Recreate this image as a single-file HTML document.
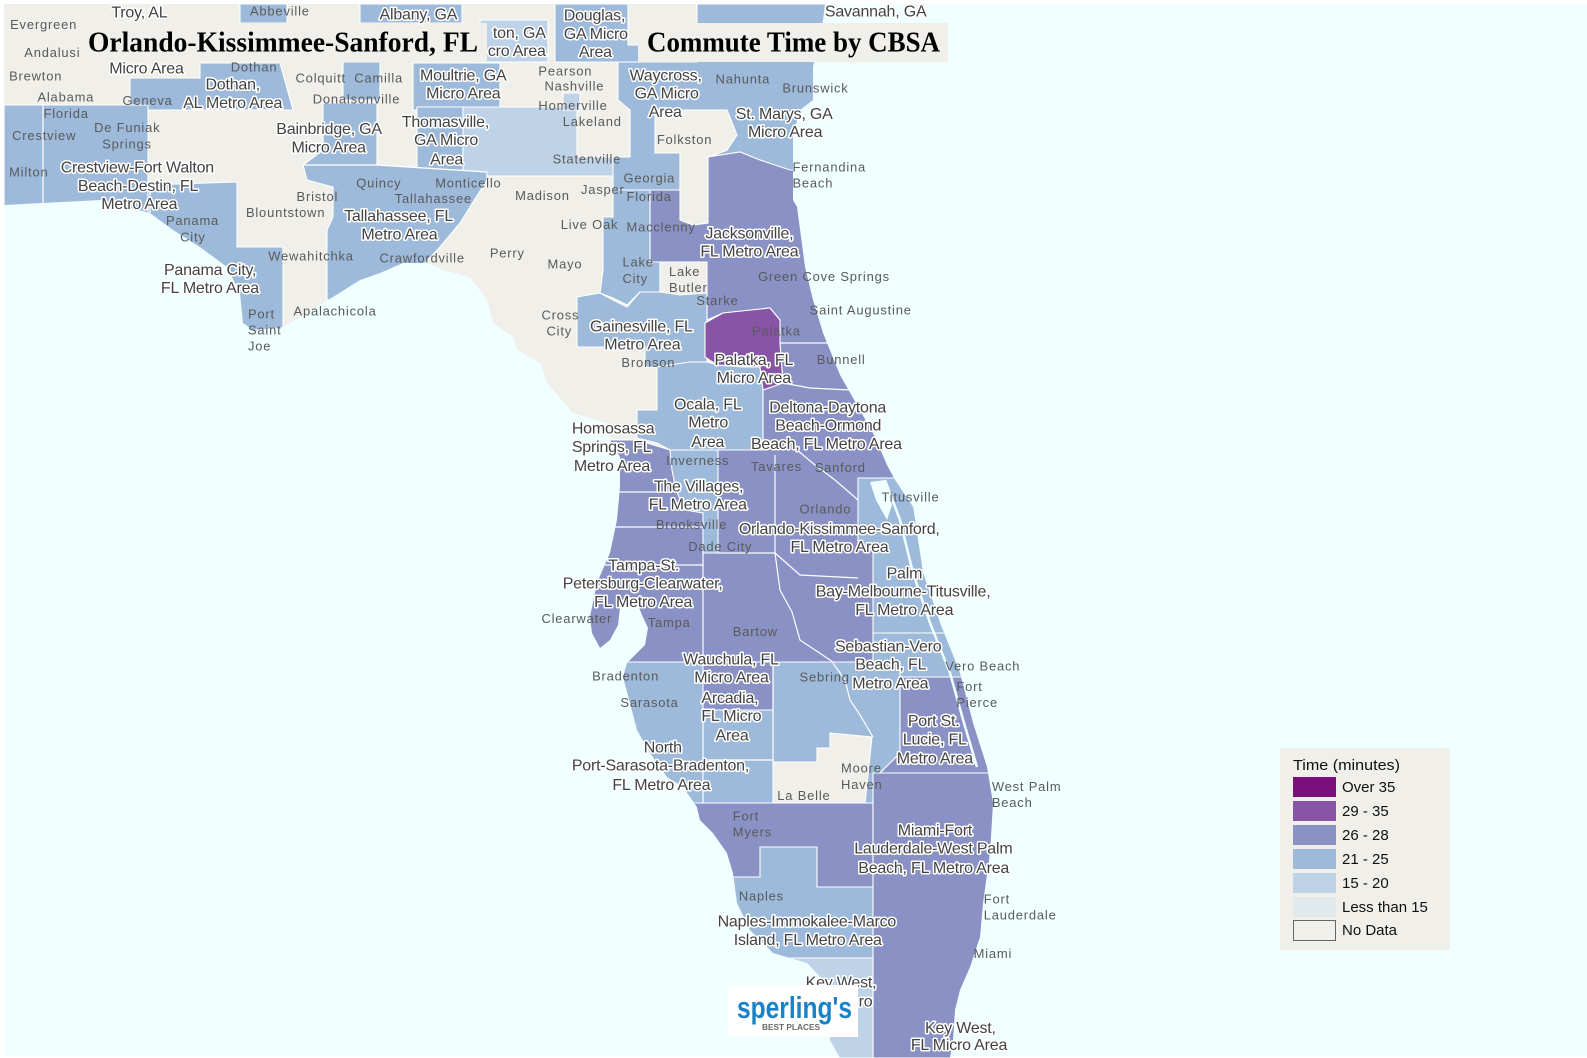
<!DOCTYPE html>
<html>
<head>
<meta charset="utf-8">
<style>
html,body{margin:0;padding:0;background:#fff;}
svg{display:block;}
.L{font-family:"Liberation Sans",Arial,sans-serif;font-size:15.8px;fill:#434343;stroke:#fff;stroke-width:3px;paint-order:stroke;stroke-linejoin:round;letter-spacing:-0.2px;}
.S{font-family:"Liberation Sans",Arial,sans-serif;font-size:12.8px;fill:#5a5a5a;letter-spacing:0.8px;}
.lg{font-family:"Liberation Sans",Arial,sans-serif;font-size:15px;fill:#111;}
</style>
</head>
<body>
<svg width="1587" height="1058" viewBox="0 0 1587 1058" xmlns="http://www.w3.org/2000/svg">
<defs>
<clipPath id="land">
<path d="M4,4 L825,4 L823,20 L813,67 L813,100 L800,110 L793,135 L793,200 L797,207 L805,267 L813,300 L823,333 L840,375 L857,405 L873,433 L887,465 L895,480 L913,507 L923,573 L940,623 L960,673 L973,723 L987,767 L993,803 L990,853 L983,903 L980,937 L970,967 L960,990 L955,1010 L953,1040 L950,1058 L840,1058 L830,1040 L830,987 L807,963 L773,953 L750,930 L737,903 L733,873 L727,853 L713,833 L700,820 L697,807 L683,787 L667,777 L650,753 L637,730 L630,703 L623,677 L627,663 L635,655 L645,645 L648,628 L642,615 L636,600 L625,595 L620,607 L618,625 L610,640 L600,648 L592,633 L590,617 L597,583 L610,553 L617,520 L620,487 L620,457 L610,440 L607,423 L573,413 L547,383 L540,363 L517,350 L513,337 L493,323 L487,300 L470,277 L443,270 L427,263 L403,263 L380,273 L360,280 L333,297 L300,317 L283,327 L253,330 L243,323 L240,293 L227,267 L200,247 L173,230 L150,213 L100,200 L4,205 Z"/>
</clipPath>
</defs>

<rect x="0" y="0" width="1587" height="1058" fill="#ffffff"/>
<rect x="4" y="4" width="1583" height="1052" fill="#f0ffff"/>

<g clip-path="url(#land)">
<rect x="0" y="0" width="1587" height="1058" fill="#f0efe9"/>
<g stroke="#ffffff" stroke-width="1.1">
<polygon fill="#9dbada" points="240,4 287,4 287,23 240,23"/>
<polygon fill="#9dbada" points="360,4 462,4 462,23 360,23"/>
<polygon fill="#bed3e8" points="480,20 548,20 548,62 480,62"/>
<polygon fill="#9dbada" points="555,4 628,4 628,45 640,45 640,62 555,62"/>
<polygon fill="#9dbada" points="413,63 500,63 500,110 413,110"/>
<polygon fill="#9dbada" points="343,62 380,62 380,100 343,100"/>
<polygon fill="#9dbada" points="130,78 200,78 200,63 280,63 293,110 130,110"/>
<polygon fill="#9dbada" points="417,107 463,107 463,172 417,172"/>
<polygon fill="#bed3e8" points="463,107 577,107 577,157 653,157 653,176 463,176"/>
<polygon fill="#bed3e8" points="563,93 580,93 580,110 563,110"/>
<polygon fill="#9dbada" points="697,4 830,4 830,172 790,172 760,160 740,152 710,157 680,150 680,190 613,190 613,157 630,157 630,110 618,100 618,62 697,62"/>
<polygon fill="#f0efe9" points="655,110 727,110 737,135 727,150 710,157 708,223 693,225 680,220 680,153 655,153"/>
<polygon fill="#8991c5" points="708,157 740,152 760,160 790,170 840,170 840,343 780,343 780,320 770,308 723,313 707,320 707,262 650,262 650,190 680,190 680,220 693,225 708,223"/>
<polygon fill="#9dbada" points="613,190 650,190 650,262 660,262 660,292 640,292 627,305 613,298 600,293 603,270 603,217 613,217"/>
<polygon fill="#9dbada" points="577,297 600,293 613,300 627,307 640,292 660,292 680,295 707,293 707,362 690,362 657,367 645,367 645,347 577,347"/>
<polygon fill="#9dbada" points="4,105 148,105 148,225 4,225"/>
<polygon fill="#9dbada" points="148,185 237,182 237,247 283,247 283,340 148,340"/>
<polygon fill="#9dbada" points="323,103 377,103 377,165 487,172 487,180 470,207 460,223 440,247 425,263 400,290 327,300 327,230 333,217 333,187 307,180 303,165 323,150"/>
<polygon fill="#8991c5" points="580,440 637,440 670,450 763,450 763,390 783,383 780,343 1000,343 1000,662 580,662"/>
<polygon fill="#9dbada" points="657,367 690,362 707,362 717,365 743,367 760,367 763,390 763,450 670,450 657,443 637,438 637,410 657,410"/>
<polygon fill="#8854a5" points="705,323 723,313 770,308 780,320 780,343 783,383 763,390 760,367 717,365 705,357"/>
<polygon fill="#9dbada" points="670,450 718,450 718,553 703,553 703,513 685,510 676,490 672,470"/>
<polygon fill="#9dbada" points="858,478 1000,478 1000,633 873,633 873,550 858,550"/>
<polygon fill="#9dbada" points="873,633 1000,633 1000,677 873,677"/>
<polygon fill="#9dbada" points="580,662 900,662 900,960 580,960"/>
<polygon fill="#8991c5" points="703,662 773,662 773,710 703,710"/>
<polygon fill="#f0efe9" points="830,733 872,737 865,803 773,803 773,762 817,762 817,748 830,748"/>
<polygon fill="#8991c5" points="600,803 873,803 873,887 817,887 817,847 760,847 760,877 600,877"/>
<polygon fill="#8991c5" points="900,677 1000,677 1000,773 880,773 900,753"/>
<polygon fill="#8991c5" points="873,773 1000,773 1000,1058 873,1058"/>
<polygon fill="#bed3e8" points="760,958 873,958 873,1058 760,1058"/>
</g>
<g stroke="#ffffff" stroke-width="1.2" fill="none">
<polyline points="43,105 43,205"/>
<polyline points="150,185 150,225"/>
<polyline points="303,165 377,165 487,172"/>
<polyline points="600,492 670,492"/>
<polyline points="605,527 703,527"/>
<polyline points="600,565 703,565"/>
<polyline points="703,553 703,662"/>
<polyline points="718,553 775,553"/>
<polyline points="775,455 775,553"/>
<polyline points="797,450 815,465 835,480 858,500"/>
<polyline points="775,553 800,575 858,578"/>
<polyline points="775,553 780,590 792,612 800,640 833,662"/>
<polyline points="780,343 835,343 850,337"/>
<polyline points="783,383 810,388 850,390"/>
<polyline points="833,663 845,680 850,700 860,715 873,737"/>
<polyline points="703,710 703,803"/>
<polyline points="703,760 773,760"/>
<polyline points="773,662 773,762"/>
<polyline points="625,598 625,640"/>
</g>
</g>

<!-- lagoons -->
<polyline points="885,480 900,520 913,573 930,623 950,673 964,723 977,767" fill="none" stroke="#f0ffff" stroke-width="2.5"/>
<polygon points="870,482 885,480 892,505 887,520 876,500" fill="#f0ffff"/>

<!-- titles -->
<rect x="82" y="23" width="405" height="39" fill="#f0efe9"/>
<text x="88" y="51.5" font-family="'Liberation Serif',serif" font-weight="bold" font-size="28" textLength="390" lengthAdjust="spacingAndGlyphs" fill="#000">Orlando-Kissimmee-Sanford, FL</text>
<rect x="638" y="23" width="310" height="39" fill="#f0efe9"/>
<text x="647" y="51.5" font-family="'Liberation Serif',serif" font-weight="bold" font-size="28" textLength="293" lengthAdjust="spacingAndGlyphs" fill="#000">Commute Time by CBSA</text>

<g transform="scale(1.0121)">
<g class="S">
<text x="10" y="28.5">Evergreen</text>
<text x="247" y="15.5">Abbeville</text>
<text x="24" y="56.5">Andalusi</text>
<text x="228" y="70.5">Dothan</text>
<text x="292" y="81.5">Colquitt</text>
<text x="350" y="81.5">Camilla</text>
<text x="532" y="74.5">Pearson</text>
<text x="538" y="89.5">Nashville</text>
<text x="707" y="82.5">Nahunta</text>
<text x="773" y="91.5">Brunswick</text>
<text x="9" y="79.5">Brewton</text>
<text x="37" y="100.5">Alabama</text>
<text x="121" y="103.5">Geneva</text>
<text x="309" y="102.5">Donalsonville</text>
<text x="532" y="108.5">Homerville</text>
<text x="556" y="124.5">Lakeland</text>
<text x="43" y="116.5">Florida</text>
<text x="93" y="130.5">De Funiak</text>
<text x="101" y="146.5">Springs</text>
<text x="649" y="142.5">Folkston</text>
<text x="12" y="138.5">Crestview</text>
<text x="546" y="161.5">Statenville</text>
<text x="783" y="169.5">Fernandina</text>
<text x="783" y="185.5">Beach</text>
<text x="9" y="174.5">Milton</text>
<text x="352" y="185.5">Quincy</text>
<text x="430" y="185.5">Monticello</text>
<text x="616" y="180.5">Georgia</text>
<text x="619" y="198.5">Florida</text>
<text x="574" y="191.5">Jasper</text>
<text x="509" y="197.5">Madison</text>
<text x="293" y="198.5">Bristol</text>
<text x="390" y="200.5">Tallahassee</text>
<text x="243" y="214.5">Blountstown</text>
<text x="164" y="222.5">Panama</text>
<text x="178" y="238.5">City</text>
<text x="554" y="226.5">Live Oak</text>
<text x="619" y="228.5">Macclenny</text>
<text x="265" y="257.5">Wewahitchka</text>
<text x="375" y="259.5">Crawfordville</text>
<text x="484" y="254.5">Perry</text>
<text x="541" y="265.5">Mayo</text>
<text x="615" y="263.5">Lake</text>
<text x="615" y="279.5">City</text>
<text x="661" y="272.5">Lake</text>
<text x="661" y="288.5">Butler</text>
<text x="749" y="277.5">Green Cove Springs</text>
<text x="688" y="301.5">Starke</text>
<text x="800" y="310.5">Saint Augustine</text>
<text x="290" y="311.5">Apalachicola</text>
<text x="245" y="314.5">Port</text>
<text x="245" y="330.5">Saint</text>
<text x="245" y="346.5">Joe</text>
<text x="535" y="315.5">Cross</text>
<text x="540" y="331.5">City</text>
<text x="743" y="331.5">Palatka</text>
<text x="614" y="362.5">Bronson</text>
<text x="807" y="359.5">Bunnell</text>
<text x="658" y="459.5">Inverness</text>
<text x="742" y="465.5">Tavares</text>
<text x="805" y="466.5">Sanford</text>
<text x="871" y="495.5">Titusville</text>
<text x="790" y="507.5">Orlando</text>
<text x="648" y="522.5">Brooksville</text>
<text x="680" y="544.5">Dade City</text>
<text x="535" y="615.5">Clearwater</text>
<text x="640" y="619.5">Tampa</text>
<text x="724" y="628.5">Bartow</text>
<text x="585" y="672.5">Bradenton</text>
<text x="790" y="673.5">Sebring</text>
<text x="934" y="662.5">Vero Beach</text>
<text x="945" y="682.5">Fort</text>
<text x="945" y="698.5">Pierce</text>
<text x="613" y="698.5">Sarasota</text>
<text x="831" y="763.5">Moore</text>
<text x="831" y="779.5">Haven</text>
<text x="980" y="781.5">West Palm</text>
<text x="980" y="797.5">Beach</text>
<text x="768" y="790.5">La Belle</text>
<text x="724" y="810.5">Fort</text>
<text x="724" y="826.5">Myers</text>
<text x="730" y="889.5">Naples</text>
<text x="972" y="892.5">Fort</text>
<text x="972" y="908.5">Lauderdale</text>
<text x="962" y="946.5">Miami</text>
</g>

<g class="L">
<text x="110" y="17.5">Troy, AL</text>
<text x="375" y="19.5">Albany, GA</text>
<text x="487" y="37.5">ton, GA</text>
<text x="482" y="55.5">cro Area</text>
<text x="557" y="20.5">Douglas,</text>
<text x="557" y="38.5">GA Micro</text>
<text x="572" y="56.5">Area</text>
<text x="815" y="16.5">Savannah, GA</text>
<text x="108" y="72.5">Micro Area</text>
<text x="203" y="88.5">Dothan,</text>
<text x="181" y="106.5">AL Metro Area</text>
<text x="415" y="79.5">Moultrie, GA</text>
<text x="421" y="97.5">Micro Area</text>
<text x="622" y="79.5">Waycross,</text>
<text x="627" y="97.5">GA Micro</text>
<text x="641" y="115.5">Area</text>
<text x="727" y="117.5">St. Marys, GA</text>
<text x="739" y="135.5">Micro Area</text>
<text x="273" y="132.5">Bainbridge, GA</text>
<text x="288" y="150.5">Micro Area</text>
<text x="397" y="125.5">Thomasville,</text>
<text x="409" y="143.5">GA Micro</text>
<text x="425" y="162.5">Area</text>
<text x="60" y="170.5">Crestview-Fort Walton</text>
<text x="77" y="188.5">Beach-Destin, FL</text>
<text x="100" y="206.5">Metro Area</text>
<text x="340" y="218.5">Tallahassee, FL</text>
<text x="357" y="236.5">Metro Area</text>
<text x="697" y="235.5">Jacksonville,</text>
<text x="692" y="253.5">FL Metro Area</text>
<text x="162" y="271.5">Panama City,</text>
<text x="159" y="289.5">FL Metro Area</text>
<text x="583" y="327.5">Gainesville, FL</text>
<text x="597" y="345.5">Metro Area</text>
<text x="706" y="360.5">Palatka, FL</text>
<text x="708" y="378.5">Micro Area</text>
<text x="666" y="404.5">Ocala, FL</text>
<text x="680" y="422.5">Metro</text>
<text x="683" y="441.5">Area</text>
<text x="760" y="407.5">Deltona-Daytona</text>
<text x="766" y="425.5">Beach-Ormond</text>
<text x="742" y="443.5">Beach, FL Metro Area</text>
<text x="565" y="428.5">Homosassa</text>
<text x="565" y="446.5">Springs, FL</text>
<text x="567" y="465.5">Metro Area</text>
<text x="646" y="485.5">The Villages,</text>
<text x="641" y="503.5">FL Metro Area</text>
<text x="730" y="527.5">Orlando-Kissimmee-Sanford,</text>
<text x="781" y="545.5">FL Metro Area</text>
<text x="601" y="563.5">Tampa-St.</text>
<text x="556" y="581.5">Petersburg-Clearwater,</text>
<text x="587" y="599.5">FL Metro Area</text>
<text x="876" y="571.5">Palm</text>
<text x="806" y="589.5">Bay-Melbourne-Titusville,</text>
<text x="845" y="607.5">FL Metro Area</text>
<text x="825" y="643.5">Sebastian-Vero</text>
<text x="845" y="661.5">Beach, FL</text>
<text x="842" y="680.5">Metro Area</text>
<text x="675" y="656.5">Wauchula, FL</text>
<text x="686" y="674.5">Micro Area</text>
<text x="693" y="694.5">Arcadia,</text>
<text x="693" y="712.5">FL Micro</text>
<text x="707" y="731.5">Area</text>
<text x="897" y="717.5">Port St.</text>
<text x="892" y="735.5">Lucie, FL</text>
<text x="886" y="754.5">Metro Area</text>
<text x="636" y="743.5">North</text>
<text x="565" y="761.5">Port-Sarasota-Bradenton,</text>
<text x="605" y="780.5">FL Metro Area</text>
<text x="887" y="825.5">Miami-Fort</text>
<text x="844" y="843.5">Lauderdale-West Palm</text>
<text x="848" y="862.5">Beach, FL Metro Area</text>
<text x="709" y="915.5">Naples-Immokalee-Marco</text>
<text x="725" y="933.5">Island, FL Metro Area</text>
<text x="796" y="975.5">Key West,</text>
<text x="862" y="994.5" text-anchor="end">FL Micro</text>
<text x="914" y="1020.5">Key West,</text>
<text x="900" y="1037.5">FL Micro Area</text>
</g>
</g>

<!-- logo -->
<rect x="728" y="985" width="130" height="52" fill="#ffffff"/>
<text x="737" y="1018" font-family="'Liberation Sans',Arial,sans-serif" font-weight="bold" font-size="31" fill="#1b82c5" textLength="115" lengthAdjust="spacingAndGlyphs">sperling's</text>
<text x="762" y="1030" font-family="'Liberation Sans',Arial,sans-serif" font-weight="bold" font-size="8" fill="#6a6a6a" textLength="58" lengthAdjust="spacingAndGlyphs">BEST PLACES</text>

<!-- legend -->
<rect x="1280" y="748" width="170" height="202" fill="#f0efea"/>
<text class="lg" x="1293" y="770" font-size="16" textLength="107" lengthAdjust="spacingAndGlyphs">Time (minutes)</text>
<rect x="1293" y="777" width="43" height="20" fill="#7b0f7b"/>
<rect x="1293" y="801" width="43" height="20" fill="#8854a5"/>
<rect x="1293" y="825" width="43" height="20" fill="#8991c5"/>
<rect x="1293" y="849" width="43" height="20" fill="#9dbada"/>
<rect x="1293" y="873" width="43" height="20" fill="#bed3e8"/>
<rect x="1293" y="897" width="43" height="20" fill="#e0eaec"/>
<rect x="1293.5" y="920.5" width="42" height="20" fill="#f0efea" stroke="#666" stroke-width="1"/>
<text class="lg" x="1342" y="792">Over 35</text>
<text class="lg" x="1342" y="816">29 - 35</text>
<text class="lg" x="1342" y="840">26 - 28</text>
<text class="lg" x="1342" y="864">21 - 25</text>
<text class="lg" x="1342" y="888">15 - 20</text>
<text class="lg" x="1342" y="912">Less than 15</text>
<text class="lg" x="1342" y="935">No Data</text>
</svg>
</body>
</html>
